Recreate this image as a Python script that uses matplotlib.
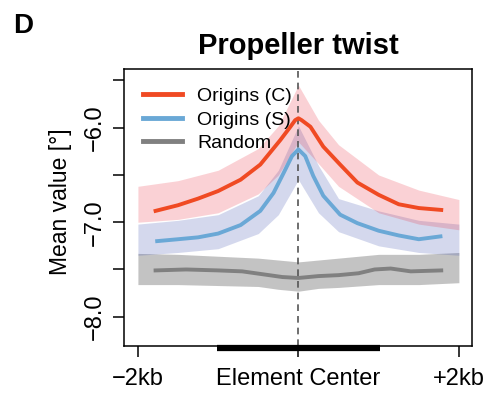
import matplotlib
matplotlib.use("Agg")
import matplotlib.pyplot as plt

plt.rcParams['font.family'] = ['Liberation Sans', 'DejaVu Sans']

# smoothed profile lines (position in bp, mean value in degrees)
origins_c_pos = [-1780, -1500, -1250, -1000, -720, -475, -225, -100, -40, 0, 40, 150, 310, 520, 735, 1000, 1250, 1500, 1780]
origins_c = [-6.88, -6.82, -6.75, -6.67, -6.55, -6.39, -6.13, -5.99, -5.92, -5.90, -5.92, -5.99, -6.20, -6.39, -6.58, -6.71, -6.81, -6.85, -6.87]

origins_s_pos = [-1760, -1500, -1250, -1000, -720, -475, -310, -185, -80, 0, 85, 185, 310, 520, 735, 1000, 1250, 1500, 1770]
origins_s = [-7.20, -7.18, -7.16, -7.12, -7.03, -6.88, -6.69, -6.48, -6.30, -6.23, -6.30, -6.51, -6.72, -6.92, -7.01, -7.09, -7.14, -7.18, -7.15]

random_pos = [-1780, -1400, -1000, -700, -450, -200, 0, 250, 500, 750, 950, 1150, 1400, 1780]
random_vals = [-7.51, -7.50, -7.51, -7.52, -7.55, -7.58, -7.59, -7.57, -7.56, -7.54, -7.50, -7.49, -7.52, -7.51]

# spread of the per-position values (cloud of points), read as low / high edges
band_pos = [-2000, -1500, -1000, -500, -250, 0, 250, 500, 1000, 1500, 2000]
c_low = [-7.00, -6.97, -6.90, -6.70, -6.50, -6.15, -6.38, -6.62, -6.90, -7.02, -7.08]
c_high = [-6.62, -6.56, -6.45, -6.22, -5.98, -5.55, -5.92, -6.18, -6.50, -6.66, -6.76]
s_low = [-7.35, -7.32, -7.28, -7.12, -6.92, -6.55, -6.90, -7.10, -7.25, -7.32, -7.35]
s_high = [-7.02, -6.98, -6.92, -6.72, -6.45, -5.98, -6.40, -6.75, -6.88, -6.98, -7.02]
r_low = [-7.66, -7.66, -7.67, -7.68, -7.71, -7.73, -7.70, -7.69, -7.66, -7.66, -7.64]
r_high = [-7.33, -7.34, -7.36, -7.38, -7.40, -7.42, -7.40, -7.38, -7.34, -7.34, -7.32]

element_span = [-1020, 1020]

x_ticks = [-2000, 0, 2000]
x_labels = ['\u22122kb', 'Element Center', '+2kb']
y_ticks = [-8.0, -7.5, -7.0, -6.5, -6.0, -5.5]
y_labels = ['\u22128.0', '', '\u22127.0', '', '\u22126.0', '']

fig = plt.figure(figsize=(4.88, 3.95), dpi=100)
ax = fig.add_axes([0.254, 0.124, 0.713, 0.701])

# point clouds
ax.fill_between(band_pos, r_low, r_high, color='#2a2a2a', alpha=0.28, lw=0)
ax.fill_between(band_pos, s_low, s_high, color='#3d50b0', alpha=0.22, lw=0)
ax.fill_between(band_pos, c_low, c_high, color='#ec3040', alpha=0.22, lw=0)

ax.axvline(0, color='#555555', lw=1.2, ls=(0, (4, 3)), zorder=3)

ax.plot(origins_c_pos, origins_c, color='#f04a23', lw=2.8, label='Origins (C)', zorder=4)
ax.plot(origins_s_pos, origins_s, color='#6aa8d6', lw=2.8, label='Origins (S)', zorder=4)
ax.plot(random_pos, random_vals, color='#808080', lw=2.8, label='Random', zorder=4)

ax.set_xlim(-2174, 2162)
ax.set_ylim(-8.31, -5.38)

ax.set_xticks(x_ticks)
ax.set_xticklabels(x_labels, fontsize=17)
ax.set_yticks(y_ticks)
ax.set_yticklabels(y_labels, fontsize=17, rotation=90, va='center')
ax.tick_params(length=8, width=1.1, color='black')
ax.tick_params(axis='x', pad=8)
ax.tick_params(axis='y', pad=5)
for s in ax.spines.values():
    s.set_linewidth(1.1)

# element bar under the axis
ax.plot(element_span, [-0.008, -0.008], color='black', lw=4.5, solid_capstyle='butt',
        transform=ax.get_xaxis_transform(), clip_on=False, zorder=5)

leg = ax.legend(loc='upper left', bbox_to_anchor=(0.01, 0.99), frameon=False, fontsize=14,
                handlelength=2.0, handletextpad=0.8, labelspacing=0.3, borderpad=0.3)
for h in leg.get_lines():
    h.set_linewidth(3.5)

ax.set_title('Propeller twist', fontsize=21, fontweight='bold', pad=11)
fig.text(61 / 488, 1 - 202 / 395, 'Mean value [\u00b0]', rotation=90, fontsize=16.5,
         ha='center', va='center')
fig.text(13 / 488, 1 - 33 / 395, 'D', fontsize=20, fontweight='bold', ha='left', va='baseline')

fig.savefig('out.png', dpi=100)
